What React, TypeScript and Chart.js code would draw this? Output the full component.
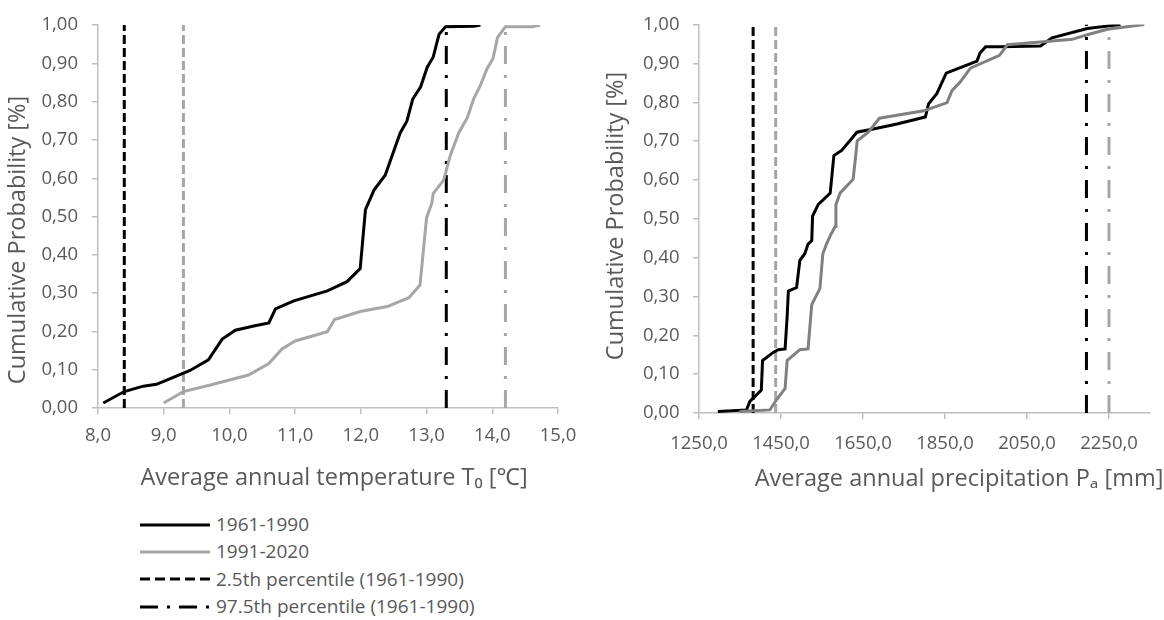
import React, { useEffect, useRef } from "react";
import { Chart, registerables } from "chart.js";

Chart.register(...registerables);

// ---------- data ----------
const legendLabels = [
  "1961-1990",
  "1991-2020",
  "2.5th percentile (1961-1990)",
  "97.5th percentile (1961-1990)",
];

// Left chart: average annual temperature
const temp6190 = [8.08, 8.4, 8.69, 8.89, 9.1, 9.4, 9.68, 9.89, 10.09, 10.37, 10.6, 10.7, 10.98, 11.49, 11.79, 11.99, 12.07, 12.2, 12.37, 12.6, 12.7, 12.79, 12.91, 13.01, 13.1, 13.19, 13.29, 13.72, 13.82];
const probTemp6190 = [0.013, 0.043, 0.057, 0.062, 0.077, 0.098, 0.126, 0.18, 0.203, 0.214, 0.222, 0.259, 0.28, 0.306, 0.33, 0.364, 0.518, 0.569, 0.608, 0.719, 0.749, 0.807, 0.839, 0.89, 0.916, 0.976, 0.996, 0.997, 1.0];
const temp9120 = [9.0, 9.3, 9.71, 10.29, 10.6, 10.8, 11.0, 11.49, 11.6, 11.99, 12.4, 12.73, 12.9, 13.0, 13.08, 13.1, 13.26, 13.36, 13.49, 13.62, 13.72, 13.81, 13.92, 14.01, 14.08, 14.2, 14.61, 14.73];
const probTemp9120 = [0.013, 0.043, 0.06, 0.086, 0.116, 0.154, 0.175, 0.199, 0.231, 0.252, 0.265, 0.288, 0.321, 0.497, 0.535, 0.56, 0.595, 0.659, 0.719, 0.758, 0.809, 0.839, 0.886, 0.912, 0.968, 0.996, 0.996, 1.0];
const tempP025 = [8.4, 9.3]; // 1961-1990, 1991-2020
const tempP975 = [13.3, 14.2];

// Right chart: average annual precipitation
const prec6190 = [1296, 1366, 1374, 1386, 1402, 1405, 1431, 1443, 1460, 1465, 1468, 1488, 1496, 1508, 1516, 1525, 1527, 1541, 1570, 1579, 1598, 1618, 1635, 1675, 1733, 1802, 1810, 1830, 1853, 1928, 1935, 1949, 1985, 2083, 2111, 2197, 2278];
const probPrec6190 = [0.004, 0.008, 0.03, 0.042, 0.059, 0.135, 0.156, 0.163, 0.165, 0.249, 0.314, 0.323, 0.393, 0.41, 0.435, 0.444, 0.507, 0.537, 0.566, 0.663, 0.676, 0.701, 0.723, 0.731, 0.744, 0.762, 0.796, 0.822, 0.875, 0.906, 0.926, 0.943, 0.943, 0.945, 0.966, 0.99, 1.0];
const prec9120 = [1349, 1423, 1439, 1460, 1465, 1496, 1516, 1525, 1545, 1552, 1561, 1570, 1582, 1584, 1594, 1626, 1636, 1663, 1690, 1798, 1855, 1867, 1887, 1912, 1983, 2002, 2083, 2160, 2197, 2246, 2336];
const probPrec9120 = [0.004, 0.008, 0.034, 0.063, 0.135, 0.163, 0.165, 0.279, 0.321, 0.41, 0.435, 0.456, 0.48, 0.537, 0.566, 0.602, 0.701, 0.723, 0.759, 0.778, 0.799, 0.83, 0.852, 0.888, 0.921, 0.948, 0.955, 0.962, 0.974, 0.988, 1.0];
const precP025 = [1382, 1437];
const precP975 = [2195, 2250];

// axes / tick labels
const probTicks = [0, 0.1, 0.2, 0.3, 0.4, 0.5, 0.6, 0.7, 0.8, 0.9, 1.0];
const tempTicks = [8, 9, 10, 11, 12, 13, 14, 15];
const precTicks = [1250, 1450, 1650, 1850, 2050, 2250];
const probRange = [0, 1];
const tempRange = [8, 15];
const precRange = [1250, 2350];
const yTitle = "Cumulative Probability [%]";
const tempTitle = "Average annual temperature T\u2080 [\u2103]";
const precTitle = "Average annual precipitation P\u2090 [mm]";

// ---------- styles ----------
const FONT = "'Open Sans', 'Noto Sans', sans-serif";
const TXT = "#595959";
const AXIS = "#bfbfbf";
const BLACK = "#000000";
const LGRAY = "#a6a6a6";
const DGRAY = "#808080";
const DASH = [9, 4];
const DASHDOT = [18, 11, 3, 11];
const TICK_SIZE = 18.5;
const TITLE_SIZE = 23.5;

const pts = (xs: number[], ys: number[]) => xs.map((x, i) => ({ x, y: ys[i] }));
const vline = (x: number) => [
  { x, y: probRange[0] },
  { x, y: probRange[1] },
];
const fmt = (v: number, d: number) => Number(v).toFixed(d).replace(".", ",");

// Axis titles placed where the original figure has them
const axisTitlePlugin = {
  id: "axisTitles",
  afterDraw(chart: any, _args: any, opts: any) {
    const ctx = chart.ctx;
    const draw = (t: any, rot: number) => {
      ctx.save();
      ctx.translate(t.x, t.y);
      ctx.rotate(rot);
      ctx.font = `${TITLE_SIZE}px ${FONT}`;
      ctx.fillStyle = TXT;
      ctx.textAlign = "center";
      ctx.textBaseline = "middle";
      ctx.fillText(t.text, 0, 0);
      ctx.restore();
    };
    if (opts.y) draw(opts.y, -Math.PI / 2);
    if (opts.x) draw(opts.x, 0);
  },
};

type Geo = {
  yWidth: number;
  xHeight: number;
  padTop: number;
  padRight: number;
  yTitleX: number;
  yTitleY: number;
  xTitleX: number;
  xTitleY: number;
  xTickPad: number;
  yTickPad: number;
};

function lineDs(label: string, data: any[], color: string, dash: number[], order: number) {
  return {
    label,
    data,
    borderColor: color,
    backgroundColor: color,
    borderWidth: 3,
    borderDash: dash,
    pointRadius: 0,
    pointHoverRadius: 0,
    showLine: true,
    tension: 0,
    fill: false,
    order,
  };
}

function makeConfig(datasets: any[], xRange: number[], xTicks: number[], xTitle: string, g: Geo): any {
  return {
    type: "scatter",
    data: { datasets },
    plugins: [axisTitlePlugin],
    options: {
      responsive: false,
      animation: false,
      events: [],
      layout: { padding: { top: g.padTop, left: 0, right: g.padRight, bottom: 0 } },
      plugins: {
        legend: { display: false },
        tooltip: { enabled: false },
        axisTitles: {
          y: { text: yTitle, x: g.yTitleX, y: g.yTitleY },
          x: { text: xTitle, x: g.xTitleX, y: g.xTitleY },
        },
      },
      scales: {
        x: {
          type: "linear",
          min: xRange[0],
          max: xRange[1],
          afterBuildTicks: (s: any) => {
            s.ticks = xTicks.map((v) => ({ value: v }));
          },
          afterFit: (s: any) => {
            s.height = g.xHeight;
          },
          ticks: {
            autoSkip: false,
            maxRotation: 0,
            color: TXT,
            padding: g.xTickPad,
            font: { family: FONT, size: TICK_SIZE },
            callback: (v: any) => fmt(v, 1),
          },
          grid: { drawOnChartArea: false, drawTicks: true, tickLength: 6, color: AXIS, lineWidth: 1.5 },
          border: { display: true, color: AXIS, width: 1.5 },
          title: { display: false },
        },
        y: {
          type: "linear",
          min: probRange[0],
          max: probRange[1],
          afterBuildTicks: (s: any) => {
            s.ticks = probTicks.map((v) => ({ value: v }));
          },
          afterFit: (s: any) => {
            s.width = g.yWidth;
          },
          ticks: {
            autoSkip: false,
            color: TXT,
            padding: g.yTickPad,
            font: { family: FONT, size: TICK_SIZE },
            callback: (v: any) => fmt(v, 2),
          },
          grid: { drawOnChartArea: false, drawTicks: true, tickLength: 6, color: AXIS, lineWidth: 1.5 },
          border: { display: true, color: AXIS, width: 1.5 },
          title: { display: false },
        },
      },
    },
  };
}

function ChartCanvas({ config, left, top, width, height }: any) {
  const ref = useRef<HTMLCanvasElement | null>(null);
  useEffect(() => {
    if (!ref.current) return;
    const chart = new Chart(ref.current, config);
    return () => chart.destroy();
  }, []);
  return (
    <canvas
      ref={ref}
      width={width}
      height={height}
      style={{ position: "absolute", left, top, width, height }}
    />
  );
}

const legendColors = [BLACK, LGRAY, BLACK, BLACK];
const legendDash = [[], [], [10, 5], [18, 9, 3, 9]];

export default function App() {
  const tempDatasets = [
    lineDs(legendLabels[0], pts(temp6190, probTemp6190), BLACK, [], 1),
    lineDs(legendLabels[1], pts(temp9120, probTemp9120), LGRAY, [], 2),
    lineDs("2.5th percentile (1961-1990)", vline(tempP025[0]), BLACK, DASH, 3),
    lineDs("2.5th percentile (1991-2020)", vline(tempP025[1]), LGRAY, DASH, 4),
    lineDs("97.5th percentile (1961-1990)", vline(tempP975[0]), BLACK, DASHDOT, 3),
    lineDs("97.5th percentile (1991-2020)", vline(tempP975[1]), LGRAY, DASHDOT, 4),
  ];
  const precDatasets = [
    lineDs(legendLabels[0], pts(prec6190, probPrec6190), BLACK, [], 2),
    lineDs(legendLabels[1], pts(prec9120, probPrec9120), DGRAY, [], 1),
    lineDs("2.5th percentile (1961-1990)", vline(precP025[0]), BLACK, DASH, 3),
    lineDs("2.5th percentile (1991-2020)", vline(precP025[1]), LGRAY, DASH, 4),
    lineDs("97.5th percentile (1961-1990)", vline(precP975[0]), BLACK, DASHDOT, 3),
    lineDs("97.5th percentile (1991-2020)", vline(precP975[1]), LGRAY, DASHDOT, 4),
  ];

  const leftCfg = makeConfig(tempDatasets, tempRange, tempTicks, tempTitle, {
    yWidth: 98,
    xHeight: 92,
    padTop: 19,
    padRight: 32,
    yTitleX: 18,
    yTitleY: 240,
    xTitleX: 334,
    xTitleY: 478,
    xTickPad: 11,
    yTickPad: 14,
  });
  const rightCfg = makeConfig(precDatasets, precRange, precTicks, precTitle, {
    yWidth: 109,
    xHeight: 87,
    padTop: 19,
    padRight: 14,
    yTitleX: 26,
    yTitleY: 216,
    xTitleX: 369,
    xTitleY: 479,
    xTickPad: 13.5,
    yTickPad: 13.5,
  });

  return (
    <div
      style={{
        position: "absolute",
        left: 0,
        top: 0,
        width: 1164,
        height: 620,
        background: "#ffffff",
        overflow: "hidden",
      }}
    >
      <ChartCanvas config={leftCfg} left={0} top={0} width={590} height={500} />
      <ChartCanvas config={rightCfg} left={590} top={0} width={574} height={500} />
      <div
        style={{
          position: "absolute",
          left: 140,
          top: 511,
          fontFamily: FONT,
          fontSize: 19,
          color: TXT,
        }}
      >
        {legendLabels.map((label, i) => (
          <div key={label} style={{ display: "flex", alignItems: "center", height: 27.3 }}>
            <svg width={70} height={10} style={{ display: "block" }}>
              <line
                x1={0}
                y1={5}
                x2={70}
                y2={5}
                stroke={legendColors[i]}
                strokeWidth={3}
                strokeDasharray={legendDash[i].length ? legendDash[i].join(" ") : undefined}
              />
            </svg>
            <span style={{ marginLeft: 6, lineHeight: "27px", whiteSpace: "nowrap" }}>{label}</span>
          </div>
        ))}
      </div>
    </div>
  );
}
